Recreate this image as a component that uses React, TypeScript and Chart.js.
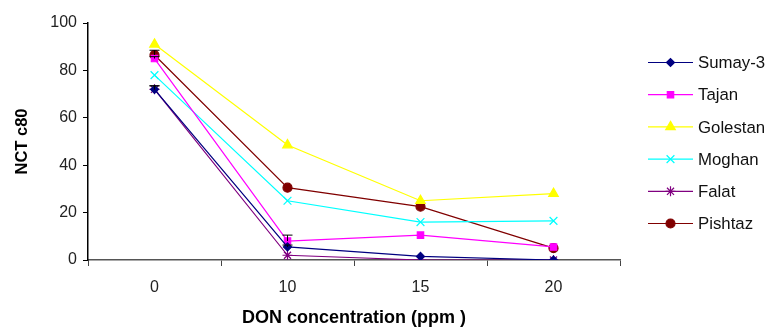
import React, { useEffect, useRef } from "react";
import { Chart, registerables } from "chart.js";
import { drawPoint } from "chart.js/helpers";

Chart.register(...registerables);

const categories = ["0", "10", "15", "20"];
const seriesNames = ["Sumay-3", "Tajan", "Golestan", "Moghan", "Falat", "Pishtaz"];
const sumay3 = [72, 5.5, 1.5, 0];
const tajan = [85, 8, 10.5, 5.5];
const golestan = [91, 48.5, 25, 28];
const moghan = [78, 25, 16, 16.5];
const falat = [72, 2, 0, 0];
const pishtaz = [86.5, 30.5, 22.5, 5];
const errTajan = [0.8, 2.5, 0, 0];
const errPishtaz = [2, 0, 0, 0];
const errSumay = [1.5, 0.8, 0, 0];
const errFalat = [1.5, 0, 0, 0];
const yTicks = [0, 20, 40, 60, 80, 100];

const FONT = "Arial, 'Liberation Sans', sans-serif";
const colors = ["#000080", "#ff00ff", "#ffff00", "#00ffff", "#800080", "#800000"];
const styles: any[] = ["rectRot", "rect", "triangle", "crossRot", "star", "circle"];
const radii = [4, 4.5, 5.5, 5.5, 5, 4.5];
const values = [sumay3, tajan, golestan, moghan, falat, pishtaz];
const errs: (number[] | null)[] = [errSumay, errTajan, null, null, errFalat, errPishtaz];

const errorBarPlugin = {
  id: "errbars",
  afterDatasetsDraw(chart: any) {
    const ctx = chart.ctx;
    const x = chart.scales.x;
    const y = chart.scales.y;
    ctx.save();
    errs.forEach((e, di) => {
      if (!e) return;
      e.forEach((v, i) => {
        if (!v) return;
        const px = x.getPixelForValue(i);
        const val = values[di][i];
        const top = y.getPixelForValue(val + v);
        const bot = y.getPixelForValue(val);
        ctx.strokeStyle = "#000";
        ctx.lineWidth = 1;
        ctx.beginPath();
        ctx.moveTo(px, top);
        ctx.lineTo(px, bot);
        ctx.moveTo(px - 5, top);
        ctx.lineTo(px + 5, top);
        ctx.stroke();
      });
    });
    ctx.restore();
  },
};

const legendPlugin = {
  id: "customLegend",
  afterDraw(chart: any) {
    const ctx = chart.ctx;
    ctx.save();
    const x0 = 648;
    const x1 = 693;
    const startY = 62.5;
    const step = 32.2;
    seriesNames.forEach((name, i) => {
      const yy = startY + i * step;
      ctx.strokeStyle = colors[i];
      ctx.lineWidth = 1.2;
      ctx.beginPath();
      ctx.moveTo(x0, yy);
      ctx.lineTo(x1, yy);
      ctx.stroke();
      ctx.fillStyle = colors[i];
      ctx.strokeStyle = colors[i];
      ctx.lineWidth = 1.2;
      drawPoint(ctx, { pointStyle: styles[i], radius: radii[i], rotation: 0, borderWidth: 1.2 } as any, (x0 + x1) / 2, yy);
      ctx.fillStyle = "#111";
      ctx.font = "16.8px " + FONT;
      ctx.textBaseline = "middle";
      ctx.textAlign = "left";
      ctx.fillText(name, 698, yy + 1);
    });
    ctx.restore();
  },
};

export default function App() {
  const ref = useRef<HTMLCanvasElement>(null);
  useEffect(() => {
    document.body.style.margin = "0";
    const canvas = ref.current!;
    const chart = new Chart(canvas, {
      type: "line",
      data: {
        labels: categories,
        datasets: seriesNames.map((n, i) => ({
          label: n,
          data: values[i],
          borderColor: colors[i],
          backgroundColor: colors[i],
          pointStyle: styles[i],
          pointRadius: radii[i],
          pointBorderWidth: 1.2,
          borderWidth: 1.2,
          tension: 0,
        })),
      },
      options: {
        animation: false,
        responsive: false,
        maintainAspectRatio: false,
        layout: { padding: { top: 23, right: 153, left: 0, bottom: 0 } },
        plugins: {
          legend: { display: false },
          tooltip: { enabled: false },
        },
        scales: {
          x: {
            offset: true,
            grid: {
              offset: true,
              drawOnChartArea: false,
              drawTicks: true,
              tickLength: 6,
              color: "#444",
            },
            border: { display: true, color: "#555", width: 1.5 },
            ticks: {
              color: "#222",
              font: { size: 16, family: FONT },
              padding: 12,
            },
            title: {
              display: true,
              text: "DON concentration (ppm )",
              color: "#000",
              font: { size: 18, weight: "bold", family: FONT },
              padding: { top: 4, bottom: 0 },
            },
            afterFit(scale: any) {
              scale.height = 69;
            },
          },
          y: {
            min: 0,
            max: 100,
            afterBuildTicks(scale: any) {
              scale.ticks = yTicks.map((v) => ({ value: v }));
            },
            grid: {
              drawOnChartArea: false,
              drawTicks: true,
              tickLength: 5,
              color: "#000",
            },
            border: { display: true, color: "#000", width: 1.5 },
            ticks: {
              color: "#222",
              font: { size: 16, family: FONT },
              padding: 6,
            },
            title: {
              display: true,
              text: "NCT c80",
              color: "#000",
              font: { size: 16.5, weight: "bold", family: FONT },
              padding: { top: 13, bottom: 6 },
            },
            afterFit(scale: any) {
              scale.width = 88;
            },
          },
        },
      },
      plugins: [errorBarPlugin, legendPlugin],
    });
    return () => chart.destroy();
  }, []);
  return (
    <div style={{ position: "absolute", left: 0, top: 0, width: 773, height: 329, background: "#fff" }}>
      <canvas ref={ref} width={773} height={329} style={{ width: 773, height: 329 }} />
    </div>
  );
}
